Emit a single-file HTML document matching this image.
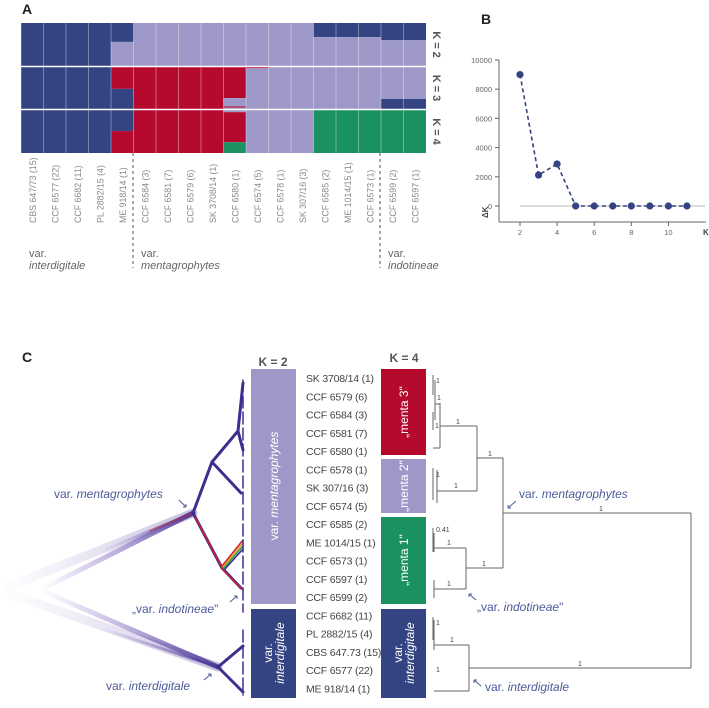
<!DOCTYPE html>
<html><head><meta charset="utf-8"><style>
body{margin:0;background:#fff;width:709px;height:708px;overflow:hidden;font-family:"Liberation Sans",sans-serif}
svg{display:block}
</style></head><body>
<svg width="709" height="708" viewBox="0 0 709 708" xmlns="http://www.w3.org/2000/svg" font-family="Liberation Sans, sans-serif">
<defs>
<linearGradient id="fadeG" x1="0" x2="1" y1="0" y2="0">
<stop offset="0" stop-color="#8a6cc8" stop-opacity="0"/>
<stop offset="1" stop-color="#4a3596" stop-opacity="0.9"/>
</linearGradient>
</defs>
<text x="22" y="14" font-size="14" font-weight="bold" fill="#222">A</text>
<g id="panelA"></g>
<text x="481" y="24" font-size="14" font-weight="bold" fill="#222">B</text>
<g id="panelB"></g>

<text x="22" y="362" font-size="14" font-weight="bold" fill="#222">C</text>

<g fill="none" stroke-linecap="round">
  <path d="M0 590 L193 513" stroke="url(#fadeG)" stroke-width="9" opacity="0.35"/>
  <path d="M0 590 L218 667" stroke="url(#fadeG)" stroke-width="9" opacity="0.35"/>
  <path d="M40 590 L193 513" stroke="url(#fadeG)" stroke-width="5"/>
  <path d="M40 590 L218 667" stroke="url(#fadeG)" stroke-width="5"/>
  <path d="M100 552 L193 513" stroke="url(#fadeG)" stroke-width="3"/>
  <path d="M100 628 L218 667" stroke="url(#fadeG)" stroke-width="3"/>
  <path d="M150 531 L193 513" stroke="#c03040" stroke-width="1.5" opacity="0.6"/>
  <g stroke="#3d2f8f" stroke-width="3">
    <path d="M193 513 L212 462 L238 431 L243 383"/>
    <path d="M238 431 L243 450"/>
    <path d="M212 462 L241 493"/>
    <path d="M193 513 L222 568 L241 588"/>
    <path d="M218 667 L243 646"/>
    <path d="M218 667 L243 692"/>
  </g>
  <path d="M195 517 L224 571 L243 590" stroke="#d02030" stroke-width="1.5"/>
  <path d="M222 566 L243 540" stroke="#d02030" stroke-width="1.5"/>
  <path d="M223 567 L243 543" stroke="#e0a020" stroke-width="1.5"/>
  <path d="M224 568 L243 546" stroke="#2a9a50" stroke-width="1.5"/>
  <path d="M225 569 L243 549" stroke="#3d2f8f" stroke-width="1.5"/>
  <path d="M243 380 L243 612 M243 630 L243 695" stroke="#3d2f8f" stroke-width="1.5" stroke-dasharray="12 4"/>
</g>
<g font-size="12" fill="#4b5a98">
  <text x="54" y="498">var. <tspan font-style="italic">mentagrophytes</tspan></text>
  <text x="132" y="613">„var. <tspan font-style="italic">indotineae</tspan>"</text>
  <text x="106" y="690">var. <tspan font-style="italic">interdigitale</tspan></text>
  <path d="M179 500 L186 507 M186 507 L183 507 M186 507 L186 504" stroke="#4b5a98" fill="none"/>
  <path d="M230 602 L237 596 M237 596 L234 596 M237 596 L237 599" stroke="#4b5a98" fill="none"/>
  <path d="M204 680 L211 674 M211 674 L208 674 M211 674 L211 677" stroke="#4b5a98" fill="none"/>
</g>

<text x="273" y="366" font-size="12" font-weight="bold" fill="#555" text-anchor="middle">K = 2</text>
<rect x="251" y="369" width="45" height="235" fill="#9e98c8"/>
<rect x="251" y="609" width="45" height="89" fill="#344382"/>
<text transform="translate(278 486) rotate(-90)" text-anchor="middle" font-size="12" fill="#fff">var. <tspan font-style="italic">mentagrophytes</tspan></text>
<text transform="translate(272 653) rotate(-90)" text-anchor="middle" font-size="12" fill="#fff"><tspan x="0" dy="0">var.</tspan><tspan x="0" dy="12" font-style="italic">interdigitale</tspan></text>

<g id="names" font-size="10.5" fill="#444"></g>

<text x="404" y="362" font-size="12" font-weight="bold" fill="#555" text-anchor="middle">K = 4</text>
<rect x="381" y="369" width="45" height="86" fill="#b5092e"/>
<rect x="381" y="459" width="45" height="54" fill="#9e98c8"/>
<rect x="381" y="517" width="45" height="87" fill="#1a9160"/>
<rect x="381" y="609" width="45" height="89" fill="#344382"/>
<text transform="translate(408 412) rotate(-90)" text-anchor="middle" font-size="12" fill="#fff">„menta 3"</text>
<text transform="translate(408 486) rotate(-90)" text-anchor="middle" font-size="12" fill="#fff">„menta 2"</text>
<text transform="translate(408 560) rotate(-90)" text-anchor="middle" font-size="12" fill="#fff">„menta 1"</text>
<text transform="translate(402 653) rotate(-90)" text-anchor="middle" font-size="12" fill="#fff"><tspan x="0" dy="0">var.</tspan><tspan x="0" dy="12" font-style="italic">interdigitale</tspan></text>

<g stroke="#666" stroke-width="1" fill="none">
  <path d="M433 375 V395 M435 380 V420 M433 412 V430 M440 403 V448 M435 404 H440 M433 448 H440 M440 426 H477"/>
  <path d="M433 468 V500 M437 470 V503 M437 491 H477 M477 426 V491 M477 458 H503"/>
  <path d="M433 528 V552 M434 533 V552 M434 548 H466 M434 580 V598 M434 589 H466 M466 548 V589 M466 568 H503 M503 458 V568 M503 513 H691"/>
  <path d="M433 617 V640 M434 620 V650 M434 645 H469 M434 691 H469 M469 645 V691 M469 668 H691 M691 513 V668"/>
</g>
<g font-size="7" fill="#444">
  <text x="436" y="383">1</text><text x="437" y="400">1</text><text x="435" y="428">1</text>
  <text x="456" y="424">1</text><text x="488" y="456">1</text><text x="436" y="477">1</text>
  <text x="454" y="488">1</text><text x="436" y="532">0.41</text><text x="447" y="545">1</text>
  <text x="482" y="566">1</text><text x="447" y="586">1</text><text x="599" y="511">1</text>
  <text x="436" y="625">1</text><text x="450" y="642">1</text><text x="436" y="672">1</text><text x="578" y="666">1</text>
</g>
<g font-size="12" fill="#4b5a98">
  <text x="519" y="498">var. <tspan font-style="italic">mentagrophytes</tspan></text>
  <text x="477" y="611">„var. <tspan font-style="italic">indotineae</tspan>"</text>
  <text x="485" y="691">var. <tspan font-style="italic">interdigitale</tspan></text>
  <path d="M516 501 L508 508 M508 508 L511 508 M508 508 L508 505" stroke="#4b5a98" fill="none"/>
  <path d="M476 600 L469 594 M469 594 L472 594 M469 594 L469 597" stroke="#4b5a98" fill="none"/>
  <path d="M481 686 L474 680 M474 680 L477 680 M474 680 L474 683" stroke="#4b5a98" fill="none"/>
</g>
</svg>
<script>
const NS="http://www.w3.org/2000/svg";
// ---- Panel A data ----
const strains=["CBS 647/73 (15)","CCF 6577 (22)","CCF 6682 (11)","PL 2882/15 (4)","ME 918/14 (1)","CCF 6584 (3)","CCF 6581 (7)","CCF 6579 (6)","SK 3708/14 (1)","CCF 6580 (1)","CCF 6574 (5)","CCF 6578 (1)","SK 307/16 (3)","CCF 6585 (2)","ME 1014/15 (1)","CCF 6573 (1)","CCF 6599 (2)","CCF 6597 (1)"];
const D="#344382",L="#9e98c8",R="#b5092e",G="#1a9160";
const k2=[[[D,1]],[[D,1]],[[D,1]],[[D,1]],[[D,0.44],[L,0.56]],[[L,1]],[[L,1]],[[L,1]],[[L,1]],[[L,1]],[[L,1]],[[L,1]],[[L,1]],[[D,0.33],[L,0.67]],[[D,0.33],[L,0.67]],[[D,0.33],[L,0.67]],[[D,0.4],[L,0.6]],[[D,0.4],[L,0.6]]];
const k3=[[[D,1]],[[D,1]],[[D,1]],[[D,1]],[[R,0.52],[D,0.48]],[[R,1]],[[R,1]],[[R,1]],[[R,1]],[[R,0.74],[L,0.2],[R,0.03],[L,0.03]],[[R,0.03],[L,0.97]],[[L,1]],[[L,1]],[[L,1]],[[L,1]],[[L,1]],[[L,0.76],[D,0.24]],[[L,0.76],[D,0.24]]];
const k4=[[[D,1]],[[D,1]],[[D,1]],[[D,1]],[[D,0.49],[R,0.51]],[[R,1]],[[R,1]],[[R,1]],[[R,1]],[[L,0.05],[R,0.7],[G,0.25]],[[L,1]],[[L,1]],[[L,1]],[[G,1]],[[G,1]],[[G,1]],[[G,1]],[[G,1]]];
const kLabels=["K = 2","K = 3","K = 4"];
const A=document.getElementById('panelA');
const ax0=21,colW=22.5;
const rows=[{d:k2,y:23,h:43},{d:k3,y:67,h:42},{d:k4,y:110,h:43}];
function mk(tag,attrs,parent){const e=document.createElementNS(NS,tag);for(const k in attrs)e.setAttribute(k,attrs[k]);parent.appendChild(e);return e;}
rows.forEach((r,ri)=>{
  r.d.forEach((segs,ci)=>{
    let y=r.y;
    segs.forEach(s=>{
      const h=s[1]*r.h;
      const el=mk('rect',{x:ax0+ci*colW,y:y,width:colW,height:h,fill:s[0]},A);
      
      
      y+=h;
    });
    const ln=mk('line',{x1:ax0+ci*colW,x2:ax0+ci*colW,y1:r.y,y2:r.y+r.h,stroke:'#fff','stroke-opacity':0.35},A);
    
    
  });
  const t=mk('text',{transform:`translate(433 ${r.y+r.h/2}) rotate(90)`,'text-anchor':'middle','font-size':11,'font-weight':'bold',fill:'#555'},A);
  t.textContent=kLabels[ri];
  
  
});
[66.5,109.5].forEach(y=>{const l=mk('line',{x1:ax0,x2:ax0+18*colW,y1:y,y2:y,stroke:'#fff','stroke-width':1.5},A);
});
strains.forEach((s,ci)=>{
  const t=mk('text',{transform:`translate(${ax0+ci*colW+colW/2+3.5} 223) rotate(-90)`,'font-size':8.8,fill:'#888'},A);
  t.textContent=s;
  
  
});
[133,380].forEach(x=>{const l=mk('line',{x1:x,x2:x,y1:153,y2:268,stroke:'#555','stroke-dasharray':'3 3'},A);
});
[[29,"interdigitale"],[141,"mentagrophytes"],[388,"indotineae"]].forEach(v=>{
  const t=mk('text',{x:v[0],y:257,'font-size':11,fill:'#666'},A);t.textContent="var.";
  
  const t2=mk('text',{x:v[0],y:269,'font-size':11,fill:'#666','font-style':'italic'},A);t2.textContent=v[1];
  
});
// ---- Panel B data ----
const kVals=[2,3,4,5,6,7,8,9,10,11];
const deltaK=[9000,2120,2880,0,0,0,0,0,0,0];
const yTicks=[0,2000,4000,6000,8000,10000];
const xTicks=[2,4,6,8,10];
const B=document.getElementById('panelB');
const xs=k=>520+(k-2)*18.55, ys=v=>206-v*0.0146;
mk('line',{x1:499,x2:499,y1:60,y2:222,stroke:'#666'},B);
mk('line',{x1:499,x2:706,y1:222,y2:222,stroke:'#666'},B);
mk('line',{x1:520,x2:705,y1:ys(0),y2:ys(0),stroke:'#bbb'},B);
yTicks.forEach(v=>{
  mk('line',{x1:495,x2:499,y1:ys(v),y2:ys(v),stroke:'#666'},B);
  const t=mk('text',{x:492,y:ys(v)+3,'text-anchor':'end','font-size':7.5,fill:'#666'},B);t.textContent=v;
  
});
xTicks.forEach(v=>{
  mk('line',{x1:xs(v),x2:xs(v),y1:222,y2:226,stroke:'#666'},B);
  const t=mk('text',{x:xs(v),y:235,'text-anchor':'middle','font-size':7.5,fill:'#666'},B);t.textContent=v;
  
});
const kt=mk('text',{x:703,y:235,'font-size':8,fill:'#444','font-weight':'bold'},B);kt.textContent="K";

const dt=mk('text',{transform:'translate(488 218) rotate(-90)','font-size':8,fill:'#444','font-weight':'bold'},B);dt.textContent="ΔK";

const pl=mk('polyline',{points:kVals.map((k,i)=>xs(k)+','+ys(deltaK[i])).join(' '),fill:'none',stroke:'#344382','stroke-width':1.6,'stroke-dasharray':'4 3'},B);

kVals.forEach((k,i)=>{const c=mk('circle',{cx:xs(k),cy:ys(deltaK[i]),r:3.6,fill:'#344382'},B);
});
// ---- Panel C strain list ----
const cNames=["SK 3708/14 (1)","CCF 6579 (6)","CCF 6584 (3)","CCF 6581 (7)","CCF 6580 (1)","CCF 6578 (1)","SK 307/16 (3)","CCF 6574 (5)","CCF 6585 (2)","ME 1014/15 (1)","CCF 6573 (1)","CCF 6597 (1)","CCF 6599 (2)","CCF 6682 (11)","PL 2882/15 (4)","CBS 647.73 (15)","CCF 6577 (22)","ME 918/14 (1)"];
const N=document.getElementById('names');
cNames.forEach((s,i)=>{const t=mk('text',{x:306,y:382+i*18.25,'letter-spacing':'-0.2'},N);t.textContent=s;
});
</script>
</body></html>
